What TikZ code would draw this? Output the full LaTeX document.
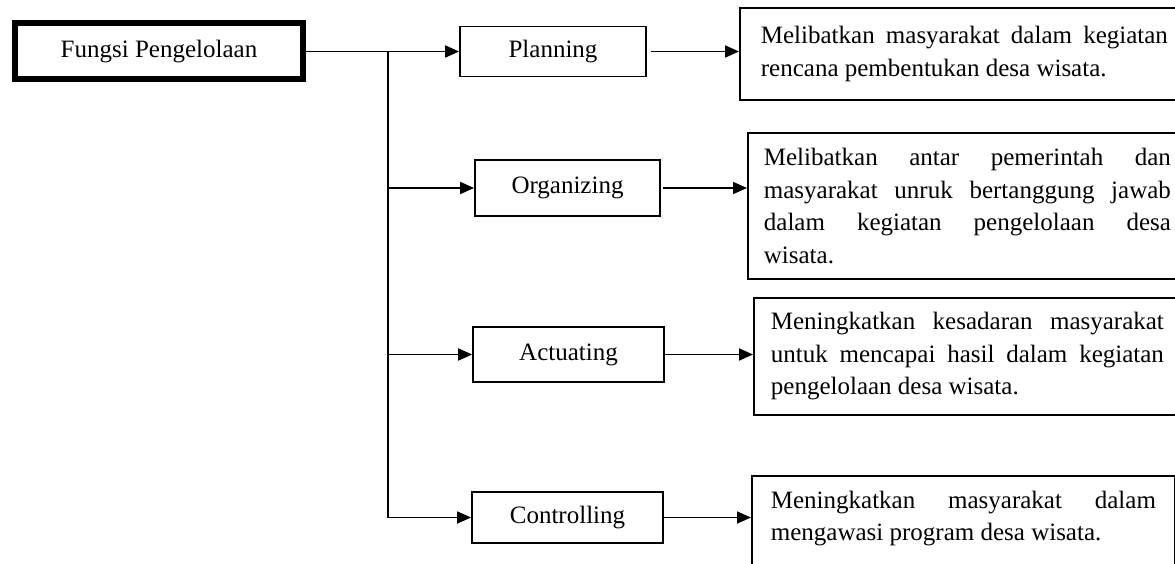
\documentclass[tikz,border=0pt]{standalone}
\usepackage{fontspec}
\setmainfont{Liberation Serif}
\usetikzlibrary{arrows.meta}
\begin{document}
\begin{tikzpicture}[x=1pt,y=-1pt,
  line width=1.8pt,
  box/.style={draw, inner sep=0pt, font=\fontsize{25}{30}\selectfont},
  desc/.style={draw, anchor=west, inner ysep=0pt, align=justify, font=\fontsize{25}{32.5}\selectfont},
  arr/.style={-{Triangle[length=14pt,width=12pt]}}]
\useasboundingbox (0,0) rectangle (1175,564);
\clip (0,0) rectangle (1175,564);

\node[box, line width=6pt, minimum width=288pt, minimum height=56pt] (fungsi) at (159,51.5) {Fungsi Pengelolaan};
\node[box, minimum width=186pt, minimum height=50pt] (plan) at (553,51.5) {Planning};
\node[box, minimum width=185pt, minimum height=56pt] (org) at (567.5,188) {Organizing};
\node[box, minimum width=191pt, minimum height=55pt] (act) at (568.5,354.5) {Actuating};
\node[box, minimum width=191pt, minimum height=51pt] (ctrl) at (567.5,517.5) {Controlling};

\node[desc, text width=407pt, inner xsep=21pt, minimum height=92pt] (r1) at (739,54)
  {Melibatkan masyarakat dalam kegiatan\linebreak rencana pembentukan desa wisata.};
\node[desc, text width=407pt, inner xsep=16pt, minimum height=146pt] (r2) at (747,206)
  {Melibatkan antar pemerintah dan\linebreak masyarakat unruk bertanggung jawab\linebreak dalam kegiatan pengelolaan desa\linebreak wisata.};
\node[desc, text width=393pt, inner xsep=17pt, minimum height=117pt] (r3) at (753,356.5)
  {Meningkatkan kesadaran masyarakat\linebreak untuk mencapai hasil dalam kegiatan\linebreak pengelolaan desa wisata.};
\node[desc, anchor=north west, text width=385pt, inner xsep=19pt, inner ysep=15pt, text depth=100pt] (r4) at (751,475)
  {Meningkatkan masyarakat dalam\linebreak mengawasi program desa wisata.};

\coordinate (j) at (388,51.5);
\coordinate (jb) at (388,517.5);
\draw[arr] (fungsi.east) -- (plan.west);
\draw (j) -- (jb);
\draw[arr] (j |- org.west) -- (org.west);
\draw[arr] (j |- act.west) -- (act.west);
\draw[arr] (jb) -- (ctrl.west);

\draw[arr, shorten <=4pt] (plan.east) -- (plan.east -| r1.west);
\draw[arr, shorten <=2pt] (org.east) -- (org.east -| r2.west);
\draw[arr] (act.east) -- (act.east -| r3.west);
\draw[arr] (ctrl.east) -- (ctrl.east -| r4.west);
\end{tikzpicture}
\end{document}
